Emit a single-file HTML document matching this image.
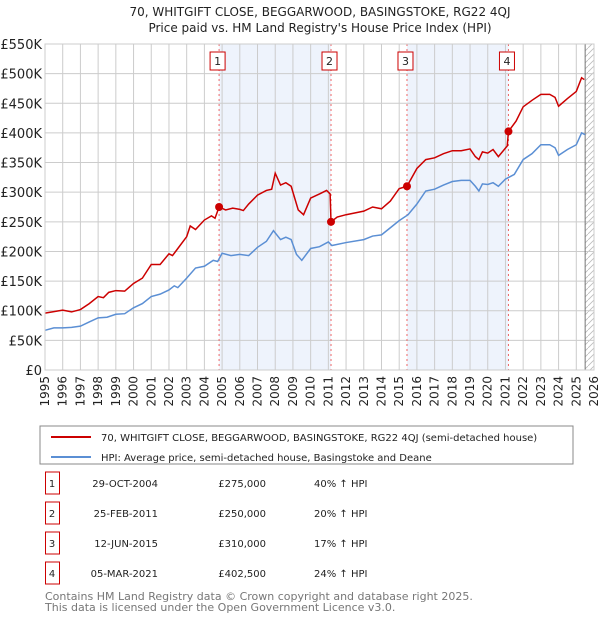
<!DOCTYPE html>
<html><head><meta charset="utf-8"><style>
body{margin:0;background:#fff;font-family:"Liberation Sans","DejaVu Sans",sans-serif}
svg text{font-family:"DejaVu Sans","Liberation Sans",sans-serif}
</style></head><body>
<svg id="c" width="600" height="620" viewBox="0 0 600 620">
<text x="320" y="16" text-anchor="middle" font-size="12" fill="#222">70, WHITGIFT CLOSE, BEGGARWOOD, BASINGSTOKE, RG22 4QJ</text>
<text x="320" y="32" text-anchor="middle" font-size="12" fill="#222">Price paid vs. HM Land Registry's House Price Index (HPI)</text>
<g id="plot"></g>
<rect x="40" y="426" width="533" height="38" fill="#fff" stroke="#888"/>
<line x1="51" y1="437" x2="91" y2="437" stroke="#cc0000" stroke-width="2"/>
<text x="101" y="441" font-size="10" fill="#222">70, WHITGIFT CLOSE, BEGGARWOOD, BASINGSTOKE, RG22 4QJ (semi-detached house)</text>
<line x1="51" y1="457" x2="91" y2="457" stroke="#5b8fd4" stroke-width="2"/>
<text x="101" y="461" font-size="10" fill="#222">HPI: Average price, semi-detached house, Basingstoke and Deane</text>
<g id="tbl"></g>
<text x="45" y="600" font-size="11" fill="#777">Contains HM Land Registry data © Crown copyright and database right 2025.</text>
<text x="45" y="611" font-size="11" fill="#777">This data is licensed under the Open Government Licence v3.0.</text>
</svg>
<script>
const hpiT=[1995,1995.5,1996,1996.5,1997,1997.5,1998,1998.5,1999,1999.5,2000,2000.5,2001,2001.5,2002,2002.3,2002.5,2003,2003.5,2004,2004.5,2004.75,2005,2005.5,2006,2006.5,2007,2007.5,2007.9,2008.3,2008.6,2008.9,2009.2,2009.5,2010,2010.5,2011,2011.2,2012,2013,2013.5,2014,2014.5,2015,2015.5,2016,2016.5,2017,2017.5,2018,2018.5,2019,2019.3,2019.5,2019.7,2020,2020.3,2020.6,2021,2021.5,2022,2022.5,2023,2023.5,2023.8,2024,2024.5,2025,2025.3,2025.5];
const hpiV=[67,71,71,72,74,81,88,89,94,95,105,112,124,128,135,142,139,155,172,175,185,183,197,193,195,193,207,217,235,220,224,220,195,185,205,208,216,210,215,220,226,228,240,252,262,280,302,305,312,318,320,320,310,302,314,313,316,310,322,330,355,365,380,380,375,362,372,380,400,397];
const redT=[1995,1996,1996.5,1997,1997.5,1998,1998.3,1998.6,1999,1999.5,2000,2000.5,2001,2001.5,2002,2002.2,2002.5,2003,2003.2,2003.5,2004,2004.4,2004.6,2004.83,2005.2,2005.6,2006,2006.2,2006.5,2007,2007.5,2007.8,2008,2008.3,2008.6,2008.9,2009.3,2009.6,2010,2010.5,2010.9,2011.1,2011.15,2011.5,2012,2013,2013.5,2014,2014.5,2015,2015.44,2016,2016.5,2017,2017.5,2018,2018.5,2019,2019.3,2019.5,2019.7,2020,2020.3,2020.6,2021.1,2021.17,2021.6,2022,2022.5,2023,2023.5,2023.8,2024,2024.5,2025,2025.3,2025.45];
const redV=[96,101,98,102,112,124,122,131,134,133,146,155,178,178,196,193,205,225,243,237,253,260,256,275,270,273,271,269,280,295,303,305,332,312,316,310,270,262,290,297,303,297,250,258,262,268,275,272,285,306,310,340,355,358,365,370,370,373,360,355,368,366,372,360,378,402.5,420,444,455,465,465,460,445,458,470,493,490];
const saleT=[2004.83,2011.15,2015.44,2021.17];
const saleV=[275,250,310,402.5];
const saleLabels=["1","2","3","4"];
const saleDates=["29-OCT-2004","25-FEB-2011","12-JUN-2015","05-MAR-2021"];
const salePrices=["£275,000","£250,000","£310,000","£402,500"];
const saleHpi=["40% ↑ HPI","20% ↑ HPI","17% ↑ HPI","24% ↑ HPI"];
const yTicks=[0,50,100,150,200,250,300,350,400,450,500,550];
const yTickLabels=["£0","£50K","£100K","£150K","£200K","£250K","£300K","£350K","£400K","£450K","£500K","£550K"];
const xTicks=[1995,1996,1997,1998,1999,2000,2001,2002,2003,2004,2005,2006,2007,2008,2009,2010,2011,2012,2013,2014,2015,2016,2017,2018,2019,2020,2021,2022,2023,2024,2025,2026];
const L=45,R=594,T=44,B=370;
const X=t=>L+(t-1995)/31*(R-L);
const Y=v=>B-v/550*(B-T);
const NS="http://www.w3.org/2000/svg";
const g=document.getElementById('plot');
function mk(tag,attrs,parent){const e=document.createElementNS(NS,tag);for(const k in attrs)e.setAttribute(k,attrs[k]);(parent||g).appendChild(e);return e;}
for(let i=0;i<4;i+=2){const r=mk('rect',{x:X(saleT[i]),y:T,width:X(saleT[i+1])-X(saleT[i]),height:B-T,fill:'#eef3fc'});

}
const defs=mk('defs',{});const p=mk('pattern',{id:'h',width:6,height:6,patternUnits:'userSpaceOnUse'},defs);
mk('path',{d:'M0 6L6 0',stroke:'#bbb','stroke-width':0.8},p);
const hx=X(2025.5);
const hr=mk('rect',{x:hx,y:T,width:R-hx,height:B-T,fill:'url(#h)'});


xTicks.forEach((t,i)=>{const l=mk('line',{x1:X(t),x2:X(t),y1:T,y2:B,stroke:'#ccc','stroke-width':1});


const tx=mk('text',{x:X(t)+4,y:B+6,'font-size':12,fill:'#222','text-anchor':'end',transform:`rotate(-90 ${X(t)+4} ${B+6})`});tx.textContent=t;

});
yTicks.forEach((v,i)=>{const l=mk('line',{x1:L,x2:R,y1:Y(v),y2:Y(v),stroke:'#ccc','stroke-width':1});


const tx=mk('text',{x:L-3,y:Y(v)+5,'font-size':13,fill:'#222','text-anchor':'end'});tx.textContent=yTickLabels[i];

});
const vl=mk('line',{x1:hx,x2:hx,y1:T,y2:B,stroke:'#777','stroke-width':1});


saleT.forEach((t,i)=>{const l=mk('line',{x1:X(t),x2:X(t),y1:T,y2:B,stroke:'#e66','stroke-width':1,'stroke-dasharray':'2,3'});


const b=mk('rect',{x:X(t)-9,y:52,width:15,height:18,fill:'#fff',stroke:'#c00'});


const tx=mk('text',{x:X(t)-1.5,y:65,'font-size':11,'text-anchor':'middle',fill:'#222'});tx.textContent=saleLabels[i];

});
const bp=mk('polyline',{points:hpiT.map((t,i)=>X(t)+','+Y(hpiV[i])).join(' '),fill:'none',stroke:'#5b8fd4','stroke-width':1.5});


const rp=mk('polyline',{points:redT.map((t,i)=>X(t)+','+Y(redV[i])).join(' '),fill:'none',stroke:'#cc0000','stroke-width':1.5});


saleT.forEach((t,i)=>{const c=mk('circle',{cx:X(t),cy:Y(saleV[i]),r:4,fill:'#cc0000'});

});
const fr=mk('rect',{x:L,y:T,width:R-L,height:B-T,fill:'none',stroke:'#ccc'});


const tb=document.getElementById('tbl');
saleT.forEach((t,i)=>{const y=483+i*30;
const b=mk('rect',{x:45.5,y:y-11,width:14,height:22,fill:'#fff',stroke:'#c00'},tb);


const cells=[[52,'middle',saleLabels[i]],[158,'end',saleDates[i]],[266,'end',salePrices[i]],[314,'start',saleHpi[i]]];
cells.forEach(c=>{const tx=mk('text',{x:c[0],y:y+4,'font-size':10,'text-anchor':c[1],fill:'#222'},tb);tx.textContent=c[2];

});});
</script>
</body></html>
